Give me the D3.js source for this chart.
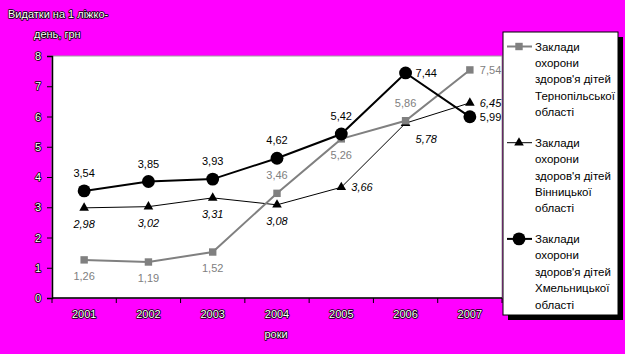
<!DOCTYPE html>
<html lang="uk">
<head>
    <meta charset="UTF-8">
    <title>Видатки на 1 ліжко-день</title>
    <style>
        body { margin: 0; background: #ff00ff; }
        svg { display: block; font-family: "Liberation Sans", Arial, sans-serif; }
        .outl { fill: #fff; stroke: #000; stroke-width: 1.6px; paint-order: stroke; stroke-linejoin: round; }
    </style>
</head>
<body>
<script type='text/javascript' src='https://d3js.org/d3.v7.min.js'></script>
<script>
    const years = ["2001", "2002", "2003", "2004", "2005", "2006", "2007"];
    const ternopil = [1.26, 1.19, 1.52, 3.46, 5.26, 5.86, 7.54];
    const vinnytsia = [2.98, 3.02, 3.31, 3.08, 3.66, 5.78, 6.45];
    const khmelnytskyi = [3.54, 3.85, 3.93, 4.62, 5.42, 7.44, 5.99];
    const yTicks = [0, 1, 2, 3, 4, 5, 6, 7, 8];
    const seriesNames = [
        ["Заклади", "охорони", "здоров'я дітей", "Тернопільської", "області"],
        ["Заклади", "охорони", "здоров'я дітей", "Вінницької", "області"],
        ["Заклади", "охорони", "здоров'я дітей", "Хмельницької", "області"]
    ];
    // label placement per point: a = above, b = below, r = right, br = below right
    const ternopilPos = ["b", "b", "b", "a", "b", "a", "r"];
    const vinnytsiaPos = ["b", "b", "b", "b", "r", "br", "r"];
    const khmelPos = ["a", "a", "a", "a", "a", "r", "r"];

    const W = 625, H = 354;
    const plot = {left: 52, top: 56, right: 502, bottom: 298};

    const svg = d3.select("body").append("svg")
        .attr("width", W)
        .attr("height", H);

    svg.append("rect").attr("width", W).attr("height", H).attr("fill", "#ff00ff");

    const x = d3.scaleBand().domain(years).range([plot.left, plot.right]);
    const y = d3.scaleLinear().domain([0, 8]).range([plot.bottom, plot.top]);
    const cx = d => x(d) + x.bandwidth() / 2;

    // plot area
    svg.append("rect")
        .attr("x", plot.left).attr("y", plot.top)
        .attr("width", plot.right - plot.left).attr("height", plot.bottom - plot.top)
        .attr("fill", "#fff").attr("stroke", "#a0a0a0").attr("stroke-width", 1);

    // axes
    const yAxis = svg.append("g")
        .attr("transform", `translate(${plot.left},0)`)
        .call(d3.axisLeft(y).tickValues(yTicks).tickSize(5).tickPadding(6).tickFormat(d3.format("d")));
    const xAxis = svg.append("g")
        .attr("transform", `translate(0,${plot.bottom})`)
        .call(d3.axisBottom(x).tickSize(0).tickPadding(12));
    xAxis.selectAll(".tick line").remove();
    // category boundary ticks
    xAxis.selectAll(".bt")
        .data(years.concat(["end"]))
        .enter().append("line")
        .attr("x1", (d, i) => plot.left + i * x.step())
        .attr("x2", (d, i) => plot.left + i * x.step())
        .attr("y1", 0).attr("y2", 5)
        .attr("stroke", "#000");
    [yAxis, xAxis].forEach(a => {
        a.select(".domain").attr("stroke", "#000").attr("stroke-width", 1.5);
        a.selectAll(".tick line").attr("stroke", "#000");
        a.selectAll("text").attr("class", "outl").style("font-size", "11px")
            .style("font-family", "'Liberation Sans', Arial, sans-serif");
    });
    xAxis.select(".domain").attr("d", `M${plot.left},0H${plot.right}`);

    // titles
    svg.append("text").attr("class", "outl").attr("x", 8).attr("y", 18)
        .style("font-size", "11px").text("Видатки на 1 ліжко-");
    svg.append("text").attr("class", "outl").attr("x", 34).attr("y", 38)
        .style("font-size", "11px").text("день, грн");
    svg.append("text").attr("class", "outl").attr("x", 276).attr("y", 338)
        .attr("text-anchor", "middle").style("font-size", "11px").text("роки");

    const line = d3.line().x((d, i) => cx(years[i])).y(d => y(d));

    function labelPos(pos, d, i) {
        const px = cx(years[i]), py = y(d);
        if (pos === "a") return [px, py - 14, "middle"];
        if (pos === "b") return [px, py + 20, "middle"];
        if (pos === "br") return [px + 10, py + 20, "start"];
        return [px + 10, py + 4, "start"];
    }

    function drawSeries(data, opts) {
        const g = svg.append("g");
        g.append("path").datum(data)
            .attr("fill", "none").attr("stroke", opts.color).attr("stroke-width", opts.width)
            .attr("d", line);
        g.selectAll(".m").data(data).enter().append("path")
            .attr("transform", (d, i) => `translate(${cx(years[i])},${y(d)})`)
            .attr("d", d3.symbol().type(opts.symbol).size(opts.size))
            .attr("fill", opts.color);
        g.selectAll(".l").data(data).enter().append("text")
            .each(function (d, i) {
                const p = labelPos(opts.pos[i], d, i);
                d3.select(this).attr("x", p[0]).attr("y", p[1]).attr("text-anchor", p[2]);
            })
            .attr("fill", opts.color)
            .style("font-size", "11px")
            .style("font-style", opts.italic ? "italic" : "normal")
            .text(d => d3.format(".2f")(d).replace(".", ","));
    }

    drawSeries(vinnytsia, {color: "#000", width: 1, symbol: d3.symbolTriangle, size: 40, pos: vinnytsiaPos, italic: true});
    drawSeries(ternopil, {color: "#808080", width: 2, symbol: d3.symbolSquare, size: 55, pos: ternopilPos});
    drawSeries(khmelnytskyi, {color: "#000", width: 2, symbol: d3.symbolCircle, size: 130, pos: khmelPos});

    // legend
    const lg = {x: 503, y: 32, w: 115, h: 283};
    svg.append("rect").attr("x", lg.x + 5).attr("y", lg.y + 5).attr("width", lg.w).attr("height", lg.h).attr("fill", "#000");
    svg.append("rect").attr("x", lg.x).attr("y", lg.y).attr("width", lg.w).attr("height", lg.h)
        .attr("fill", "#fff").attr("stroke", "#000").attr("stroke-width", 1);

    const legendItems = [
        {color: "#808080", width: 2, symbol: d3.symbolSquare, size: 55},
        {color: "#000", width: 1, symbol: d3.symbolTriangle, size: 40},
        {color: "#000", width: 2, symbol: d3.symbolCircle, size: 130}
    ];
    legendItems.forEach((it, k) => {
        const top = lg.y + 14.5 + k * 96.2;
        svg.append("line").attr("x1", lg.x + 4).attr("x2", lg.x + 29).attr("y1", top).attr("y2", top)
            .attr("stroke", it.color).attr("stroke-width", it.width);
        svg.append("path").attr("transform", `translate(${lg.x + 16},${top})`)
            .attr("d", d3.symbol().type(it.symbol).size(it.size)).attr("fill", it.color);
        svg.append("text").attr("x", lg.x + 32).attr("y", top + 4)
            .style("font-size", "11.5px")
            .selectAll("tspan").data(seriesNames[k]).enter().append("tspan")
            .attr("x", lg.x + 32).attr("dy", (d, i) => i === 0 ? 0 : 16.4)
            .text(d => d);
    });
</script>
</body>
</html>
